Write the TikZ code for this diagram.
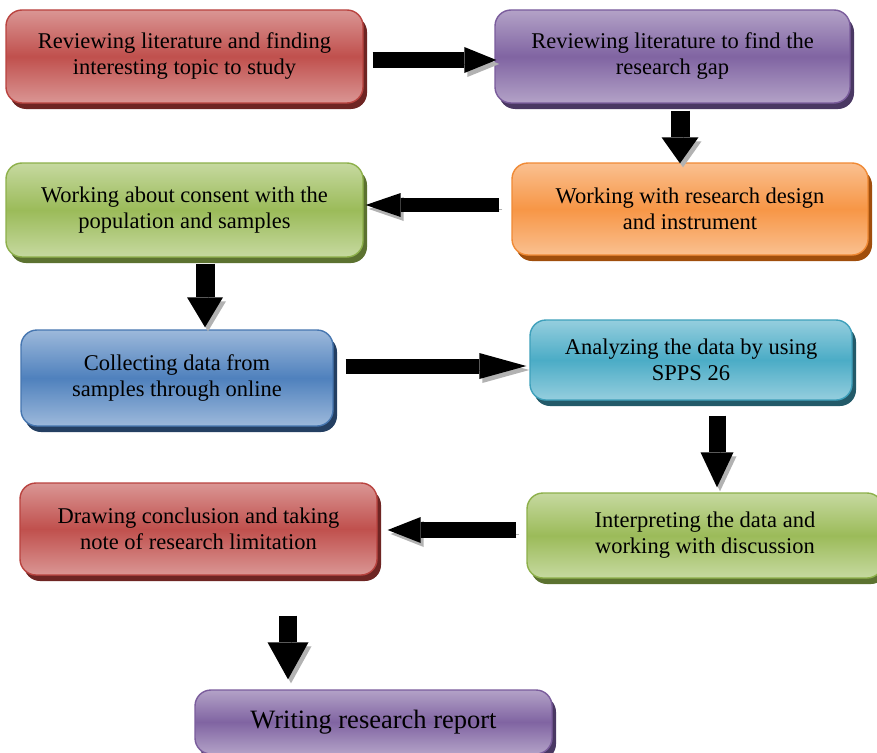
\documentclass[tikz,border=0pt]{standalone}
\usepackage{fontspec}
\setmainfont{Liberation Serif}
\usetikzlibrary{arrows.meta,calc}
\definecolor{redM}{HTML}{C0504D}\definecolor{redL}{HTML}{DA9694}\definecolor{redB}{HTML}{B9433F}\definecolor{redD}{HTML}{6E2523}
\definecolor{purM}{HTML}{8064A2}\definecolor{purL}{HTML}{B3A2C7}\definecolor{purB}{HTML}{7A5C9C}\definecolor{purD}{HTML}{4A3863}
\definecolor{grnM}{HTML}{9BBB59}\definecolor{grnL}{HTML}{C6D9A0}\definecolor{grnB}{HTML}{8DB04A}\definecolor{grnD}{HTML}{5C7230}
\definecolor{orgM}{HTML}{F79646}\definecolor{orgL}{HTML}{FAC090}\definecolor{orgB}{HTML}{F08A35}\definecolor{orgD}{HTML}{A04E0C}
\definecolor{bluM}{HTML}{4F81BD}\definecolor{bluL}{HTML}{9DB9DB}\definecolor{bluB}{HTML}{4676B0}\definecolor{bluD}{HTML}{243F62}
\definecolor{tealM}{HTML}{4BACC6}\definecolor{tealL}{HTML}{95CEDE}\definecolor{tealB}{HTML}{3EA0BB}\definecolor{tealD}{HTML}{235A69}
\begin{document}
\begin{tikzpicture}[x=1pt,y=-1pt,
  cbox/.style n args={4}{rectangle, rounded corners=16pt, align=center, inner sep=0pt,
    font=\fontsize{22.5}{26}\selectfont, line width=1.4pt, draw=#3,
    top color=#2, bottom color=#2, middle color=#1,
    preaction={fill=#4, transform canvas={shift={(4pt,-6pt)}}}},
  redbox/.style={cbox={redM}{redL}{redB}{redD}},
  purbox/.style={cbox={purM}{purL}{purB}{purD}},
  grnbox/.style={cbox={grnM}{grnL}{grnB}{grnD}},
  orgbox/.style={cbox={orgM}{orgL}{orgB}{orgD}},
  blubox/.style={cbox={bluM}{bluL}{bluB}{bluD}},
  tealbox/.style={cbox={tealM}{tealL}{tealB}{tealD}},
  barrow/.style n args={3}{draw=black, line width=#1,
    -{Triangle[length=#2,width=#3,line width=0pt]},
    preaction={draw=black!30, transform canvas={shift={(3pt,-4pt)}}}}
]
\clip (0,0) rectangle (877,752);
\fill[white] (0,0) rectangle (877,752);

\node[redbox, minimum width=357pt, minimum height=93pt] (b1) at (184.5,56.5)
  {Reviewing literature and finding\\interesting topic to study};
\node[purbox, minimum width=355pt, minimum height=93pt] (b2) at (672.5,56.5)
  {Reviewing literature to find the\\research gap};
\node[grnbox, minimum width=357pt, minimum height=94pt] (b3) at (184.5,210)
  {Working about consent with the\\population and samples};
\node[orgbox, minimum width=356pt, minimum height=92pt] (b4) at (690,209)
  {Working with research design\\and instrument};
\node[blubox, minimum width=312pt, minimum height=96pt] (b5) at (177,378)
  {Collecting data from\\samples through online};
\node[tealbox, minimum width=322pt, minimum height=80pt] (b6) at (691,360)
  {Analyzing the data by using\\SPPS 26};
\node[grnbox, minimum width=356pt, minimum height=85pt] (b7) at (705,535.5)
  {Interpreting the data and\\working with discussion};
\node[redbox, minimum width=357pt, minimum height=92pt] (b8) at (198.5,529)
  {Drawing conclusion and taking\\note of research limitation};
\node[purbox, minimum width=357pt, minimum height=64pt, font=\fontsize{26.5}{30}\selectfont] (b9) at (373.5,722)
  {Writing research report};

\draw[barrow={15pt}{32pt}{26pt}] ($(b1.east)+(9,3.5)$) -- ($(b2.west)+(2,3.5)$);
\draw[barrow={19pt}{26pt}{37pt}] ($(b2.south)+(7.5,7)$) -- ($(b4.north)+(-10,1)$);
\draw[barrow={14pt}{35pt}{24pt}] ($(b4.west)+(-12,-4)$) -- ($(b3.east)+(2,-5)$);
\draw[barrow={19pt}{30pt}{36pt}] ($(b3.south)+(20.5,6)$) -- ($(b5.north)+(28,-2)$);
\draw[barrow={15pt}{47pt}{26pt}] ($(b5.east)+(12,-12)$) -- ($(b6.west)+(-3,6)$);
\draw[barrow={17pt}{35pt}{33pt}] ($(b6.south)+(26,15)$) -- ($(b7.north)+(12,-5)$);
\draw[barrow={16pt}{33pt}{26pt}] ($(b7.west)+(-10,-5.5)$) -- ($(b8.east)+(10,1)$);
\draw[barrow={18pt}{37pt}{41pt}] ($(b8.south)+(89.5,40)$) -- ($(b9.north)+(-85.5,-10)$);
\end{tikzpicture}
\end{document}
